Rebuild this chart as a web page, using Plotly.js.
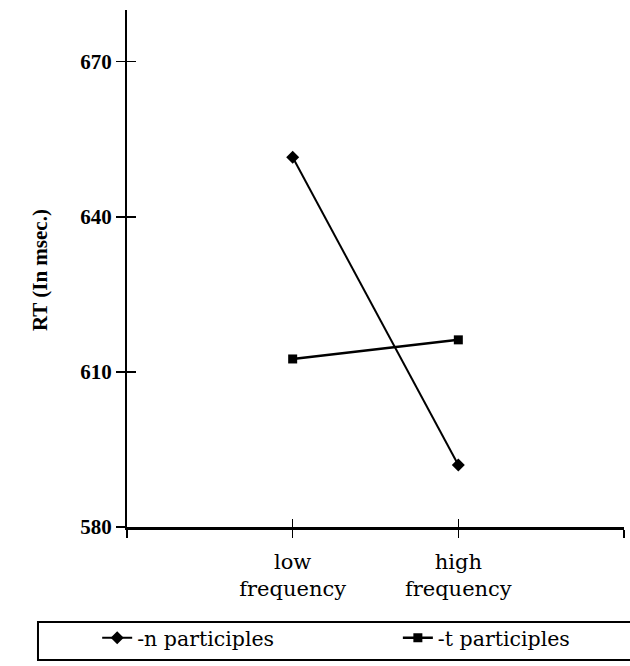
<!DOCTYPE html>
<html>
<head>
<meta charset="utf-8">
<script src="https://cdn.plot.ly/plotly-3.0.1.min.js"></script>
<style>html,body{margin:0;padding:0;background:#fff;}#chart{width:630px;height:666px;}</style>
</head>
<body>
<div id="chart"></div>
<script>
const categories = ['low<br>frequency', 'high<br>frequency'];
const nParticiples = [651.5, 592];
const tParticiples = [612.5, 616.2];
const seriesNames = ['-n participles', '-t participles'];
const yTickVals = [580, 610, 640, 670];

const xPos = categories.map((c, i) => i + 1);
const xTickVals = [0].concat(xPos, [categories.length + 1]);
const xTickText = [''].concat(categories, ['']);

const FONT = '"Liberation Serif", "Times New Roman", Times, serif';
const WIDE = '"DejaVu Serif", "Liberation Serif", serif';

const traces = [
  {
    x: xPos, y: nParticiples, name: seriesNames[0], type: 'scatter', mode: 'lines+markers',
    line: {color: '#000', width: 2},
    marker: {symbol: 'diamond', size: 10, color: '#000'},
    legend: 'legend'
  },
  {
    x: xPos, y: tParticiples, name: seriesNames[1], type: 'scatter', mode: 'lines+markers',
    line: {color: '#000', width: 2.5},
    marker: {symbol: 'square', size: 9, color: '#000'},
    legend: 'legend2'
  },
  {
    x: xPos, y: tParticiples, xaxis: 'x2', yaxis: 'y2', type: 'scatter', mode: 'markers',
    marker: {opacity: 0}, showlegend: false, hoverinfo: 'skip'
  }
];

const legendCommon = {
  orientation: 'h', xanchor: 'left',
  y: -0.2147, yanchor: 'middle',
  bgcolor: 'rgba(0,0,0,0)', borderwidth: 0,
  font: {family: WIDE, size: 20.5, color: '#000'}
};

const layout = {
  width: 630, height: 666,
  margin: {l: 127, r: 6, t: 10, b: 139},
  paper_bgcolor: '#fff', plot_bgcolor: '#fff',
  font: {family: FONT, color: '#000', size: 20},
  showlegend: true,
  xaxis: {
    range: [0, categories.length + 1],
    tickmode: 'array', tickvals: xTickVals, ticktext: xTickText,
    showgrid: false, zeroline: false,
    showline: true, linecolor: '#000', linewidth: 2.5,
    ticks: 'outside', ticklen: 8, tickwidth: 1.5, tickcolor: '#000',
    ticklabelstandoff: 6,
    tickfont: {family: WIDE, size: 21, color: '#000'}
  },
  yaxis: {
    range: [580, 680],
    tickmode: 'array', tickvals: yTickVals,
    showgrid: false, zeroline: false,
    showline: true, linecolor: '#000', linewidth: 2,
    ticks: 'outside', ticklen: 9, tickwidth: 1.5, tickcolor: '#000',
    ticklabelstandoff: 0,
    tickfont: {family: FONT, size: 21, color: '#000', weight: 'bold'}
  },
  xaxis2: {
    overlaying: 'x', matches: 'x', anchor: 'y2',
    tickmode: 'array', tickvals: xTickVals,
    showticklabels: false, showgrid: false, zeroline: false, showline: false,
    ticks: 'inside', ticklen: 8, tickwidth: 1.5, tickcolor: '#000'
  },
  yaxis2: {
    overlaying: 'y', matches: 'y', anchor: 'x2',
    tickmode: 'array', tickvals: yTickVals,
    showticklabels: false, showgrid: false, zeroline: false, showline: false,
    ticks: 'inside', ticklen: 9, tickwidth: 1.5, tickcolor: '#000'
  },
  legend: Object.assign({}, legendCommon, {x: -0.06}),
  legend2: Object.assign({}, legendCommon, {x: 0.545}),
  shapes: [{
    type: 'rect', xref: 'paper', yref: 'paper',
    x0: -0.1791, x1: 1.05, y0: -0.2573, y1: -0.1838,
    line: {color: '#000', width: 2}, fillcolor: 'rgba(0,0,0,0)'
  }],
  annotations: [{
    text: 'RT (In msec.)', xref: 'paper', yref: 'paper',
    x: -0.175, y: 0.497, xanchor: 'center', yanchor: 'middle',
    textangle: -90, showarrow: false,
    font: {family: FONT, size: 21, color: '#000', weight: 'bold'}
  }]
};

Plotly.newPlot('chart', traces, layout, {displayModeBar: false, staticPlot: true});
</script>
</body>
</html>
